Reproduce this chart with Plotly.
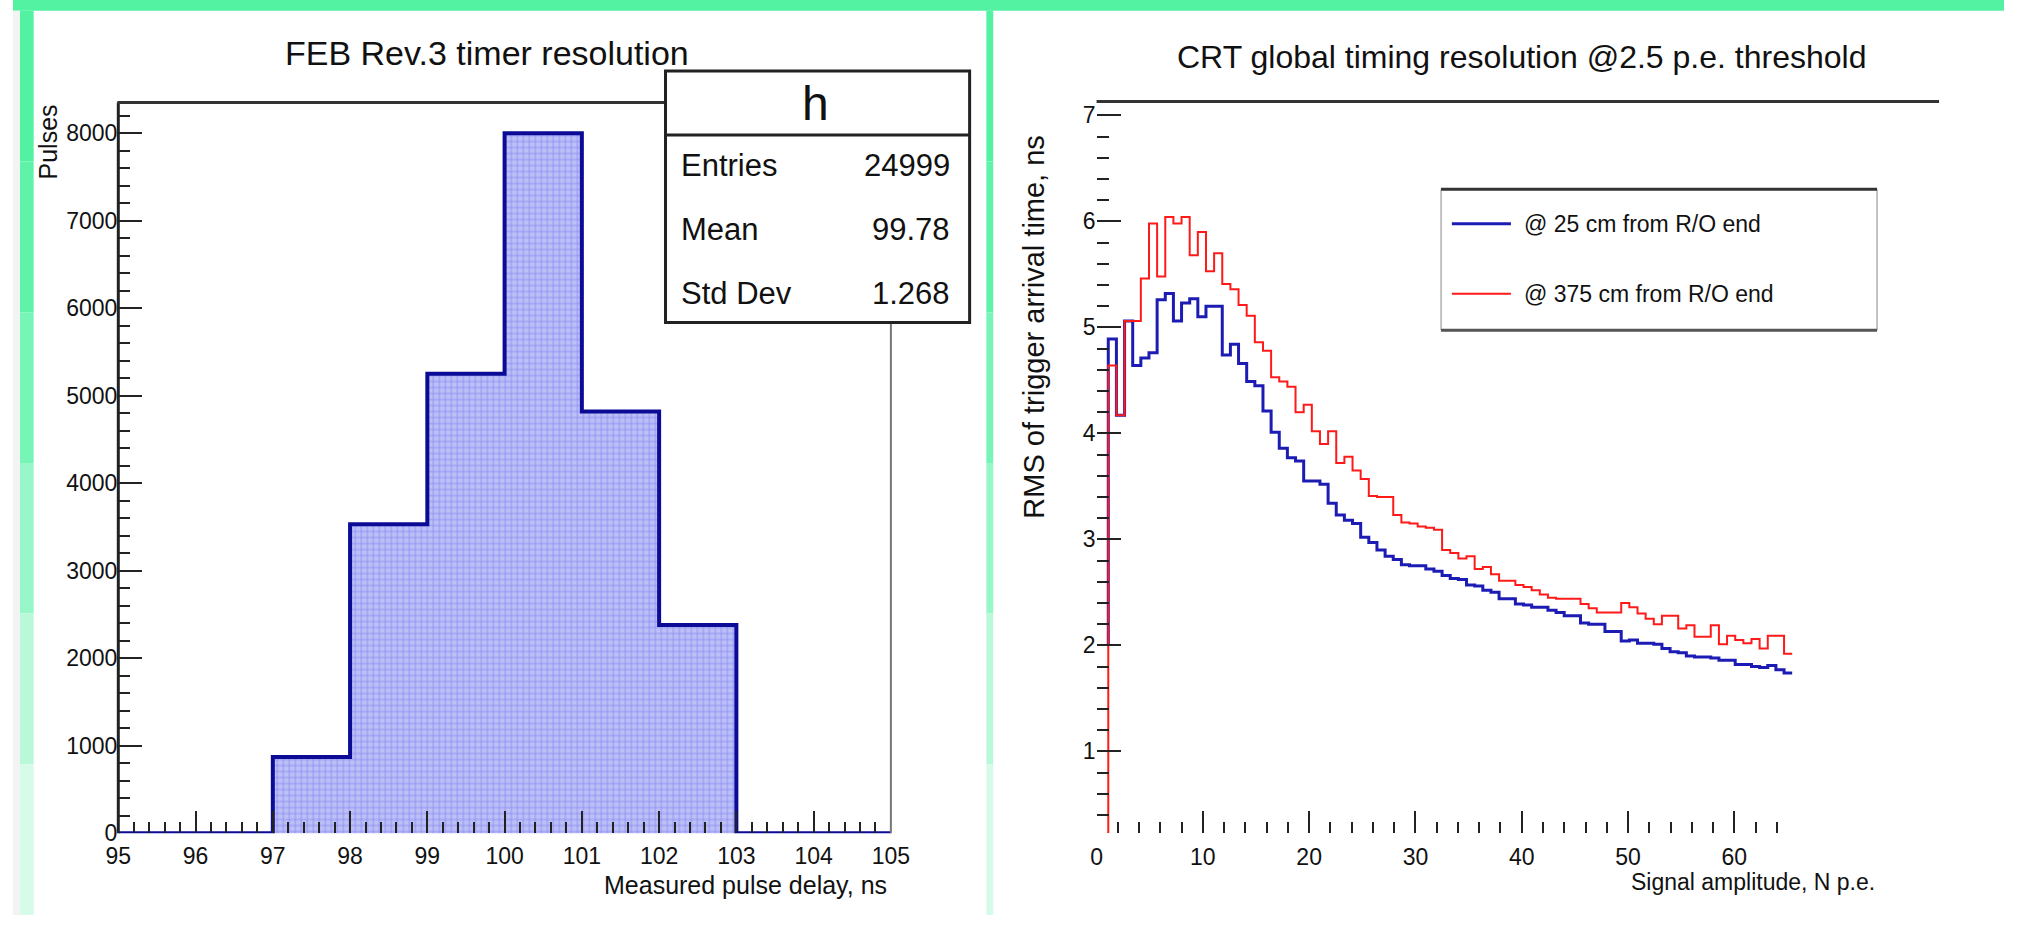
import plotly.graph_objects as go
import numpy as np

W, H = 2023, 928

# ---------------- data: left panel (FEB timer resolution) ----------------
feb_bin_start = 95.0
feb_bin_width = 1.0
feb_counts = [0, 0, 870, 3530, 5250, 8000, 4820, 2380, 0, 0]
feb_x_ticks = list(range(95, 106))
feb_y_ticks = list(range(0, 8001, 1000))
stat_names = ["Entries", "Mean", "Std Dev"]
stat_values = ["24999", "99.78", "1.268"]

# ---------------- data: right panel (CRT timing resolution) ----------------
amp_bin_start = 1.1
amp_bin_width = 0.766
rms_25cm = [4.89, 4.17, 5.06, 4.64, 4.71, 4.76, 5.26, 5.32, 5.06, 5.23,
            5.27, 5.10, 5.20, 5.20, 4.74, 4.84, 4.66, 4.49, 4.45, 4.21,
            4.01, 3.86, 3.77, 3.74, 3.55, 3.55, 3.52, 3.34, 3.23, 3.18,
            3.15, 3.02, 2.97, 2.90, 2.84, 2.81, 2.76, 2.75, 2.75, 2.72,
            2.70, 2.66, 2.63, 2.62, 2.57, 2.56, 2.52, 2.50, 2.44, 2.44,
            2.39, 2.38, 2.36, 2.36, 2.33, 2.31, 2.28, 2.28, 2.21, 2.20,
            2.20, 2.13, 2.13, 2.04, 2.05, 2.02, 2.02, 2.01, 1.97, 1.94,
            1.93, 1.90, 1.89, 1.89, 1.88, 1.86, 1.86, 1.82, 1.82, 1.80,
            1.79, 1.81, 1.77, 1.74]
rms_375cm = [4.64, 4.17, 5.06, 5.06, 5.46, 5.98, 5.48, 6.04, 5.98, 6.04,
             5.68, 5.90, 5.53, 5.70, 5.41, 5.36, 5.21, 5.11, 4.86, 4.78,
             4.53, 4.49, 4.44, 4.20, 4.27, 4.02, 3.90, 4.02, 3.72, 3.78,
             3.65, 3.57, 3.41, 3.40, 3.40, 3.23, 3.16, 3.15, 3.12, 3.11,
             3.09, 2.90, 2.87, 2.82, 2.84, 2.72, 2.74, 2.67, 2.61, 2.61,
             2.57, 2.55, 2.52, 2.48, 2.45, 2.44, 2.44, 2.44, 2.39, 2.35,
             2.31, 2.31, 2.31, 2.40, 2.36, 2.30, 2.25, 2.20, 2.28, 2.28,
             2.16, 2.19, 2.08, 2.08, 2.19, 2.01, 2.09, 2.05, 2.02, 2.06,
             1.97, 2.09, 2.09, 1.92]
rms_25cm_start_level = 2.0
legend_labels = ["@ 25 cm from R/O end", "@ 375 cm from R/O end"]
amp_major_ticks = list(range(0, 61, 10))
amp_minor_ticks = [v for v in range(2, 65, 2) if v % 10 != 0]
rms_major_ticks = list(range(1, 8))

# ---------------- styling ----------------
FONT = "Liberation Sans Narrow, Arial Narrow, Liberation Sans, Arial, sans-serif"
GREEN = "#52f2a2"
NAVY = "#0b0b96"
BLUE = "#1c1cb4"
RED = "#ff1a1a"

# plot-area frame positions (pixels)
L_X0, L_X1, L_Y0, L_Y1 = 107, 892, 104, 845
R_X0, R_X1, R_Y0, R_Y1 = 1101, 1957, 103, 845


def fx(px):
    return px / W


def fy(py):
    return 1 - py / H


fig = go.Figure()

# left histogram (fill + outline)
feb_edges = feb_bin_start + feb_bin_width * np.arange(len(feb_counts) + 1)
feb_centers = (feb_edges[:-1] + feb_edges[1:]) / 2
fig.add_trace(go.Bar(
    x=feb_centers, y=feb_counts, width=feb_bin_width,
    marker=dict(color="#bcc0f7", line=dict(width=0),
                pattern=dict(shape="+", fgcolor="#4646ea", size=6, solidity=0.22)),
    xaxis="x", yaxis="y", showlegend=False, hoverinfo="skip"))
fig.add_trace(go.Scatter(
    x=list(feb_edges), y=feb_counts + [feb_counts[-1]], mode="lines",
    line=dict(color=NAVY, width=4, shape="hv"),
    xaxis="x", yaxis="y", showlegend=False, name="h"))

# right step histograms
amp_edges = amp_bin_start + amp_bin_width * np.arange(len(rms_25cm) + 1)
y2_min, y2_max = 0.228, 7.13
fig.add_trace(go.Scatter(
    x=[amp_edges[0]] + list(amp_edges), y=[rms_25cm_start_level] + rms_25cm + [rms_25cm[-1]],
    mode="lines", line=dict(color=BLUE, width=3, shape="hv"),
    xaxis="x2", yaxis="y2", showlegend=False, name=legend_labels[0]))
fig.add_trace(go.Scatter(
    x=[amp_edges[0]] + list(amp_edges), y=[y2_min] + rms_375cm + [rms_375cm[-1]],
    mode="lines", line=dict(color=RED, width=2, shape="hv"),
    xaxis="x2", yaxis="y2", showlegend=False, name=legend_labels[1]))

tickfont_l = dict(family=FONT, size=23, color="#111")
tickfont_r = dict(family=FONT, size=23, color="#111")

fig.update_layout(
    width=W, height=H, margin=dict(l=0, r=0, t=0, b=0),
    paper_bgcolor="white", plot_bgcolor="rgba(0,0,0,0)",
    bargap=0, showlegend=False,
    xaxis=dict(domain=[fx(L_X0), fx(L_X1)], range=[95, 105], tickvals=feb_x_ticks,
               ticks="inside", ticklen=22, tickwidth=2, tickcolor="#222", ticklabelstandoff=7,
               minor=dict(dtick=0.2, tick0=95, ticks="inside", ticklen=11, tickwidth=2, tickcolor="#222"),
               showgrid=False, zeroline=False, showline=False, tickfont=tickfont_l, anchor="y"),
    yaxis=dict(domain=[fy(L_Y1), fy(L_Y0)], range=[0, 8350], tickvals=feb_y_ticks,
               ticks="inside", ticklen=24, tickwidth=2, tickcolor="#222",
               minor=dict(dtick=200, tick0=0, ticks="inside", ticklen=12, tickwidth=2, tickcolor="#222"),
               showgrid=False, zeroline=False, showline=False, tickfont=tickfont_l, anchor="x"),
    xaxis2=dict(domain=[fx(R_X0), fx(R_X1)], range=[0, 79.26], tickvals=amp_major_ticks,
                ticks="inside", ticklen=22, tickwidth=2, tickcolor="#222", ticklabelstandoff=8,
                minor=dict(tickvals=amp_minor_ticks, ticks="inside", ticklen=11, tickwidth=2, tickcolor="#222"),
                showgrid=False, zeroline=False, showline=False, tickfont=tickfont_r, anchor="y2"),
    yaxis2=dict(domain=[fy(R_Y1), fy(R_Y0)], range=[y2_min, y2_max], tickvals=rms_major_ticks,
                ticks="inside", ticklen=24, tickwidth=2, tickcolor="#222",
                minor=dict(dtick=0.2, tick0=0, ticks="inside", ticklen=12, tickwidth=2, tickcolor="#222"),
                showgrid=False, zeroline=False, showline=False, tickfont=tickfont_r, anchor="x2"),
)

shapes = []
# green border strips (fading toward the bottom)
fade = ["#52f2a2", "#5ef3a9", "#77f5b7", "#97f7c8", "#b9f9da", "#d6fbe9"]
shapes.append(dict(type="rect", xref="paper", yref="paper", x0=0, x1=1, y0=fy(11), y1=1,
                   fillcolor=GREEN, line=dict(width=0), layer="above"))
seg = (H - 11) / len(fade)
for i, c in enumerate(fade):
    ya, yb = 11 + i * seg, 11 + (i + 1) * seg
    shapes.append(dict(type="rect", xref="paper", yref="paper", x0=fx(7), x1=fx(21),
                       y0=fy(yb), y1=fy(ya), fillcolor=c, line=dict(width=0), layer="above"))
    shapes.append(dict(type="rect", xref="paper", yref="paper", x0=fx(989), x1=fx(996),
                       y0=fy(yb), y1=fy(ya), fillcolor=c, line=dict(width=0), layer="above"))
shapes.append(dict(type="rect", xref="paper", yref="paper", x0=0, x1=fx(7), y0=0, y1=fy(11),
                   fillcolor="#f1f4f2", line=dict(width=0), layer="above"))

# left frame
shapes.append(dict(type="line", xref="paper", yref="paper", x0=fx(L_X0), x1=fx(L_X0), y0=fy(L_Y1), y1=fy(L_Y0),
                   line=dict(color="#222", width=3), layer="above"))
shapes.append(dict(type="line", xref="paper", yref="paper", x0=fx(L_X0 - 1), x1=fx(L_X1), y0=fy(L_Y0), y1=fy(L_Y0),
                   line=dict(color="#333", width=3), layer="above"))
shapes.append(dict(type="line", xref="paper", yref="paper", x0=fx(L_X1), x1=fx(L_X1), y0=fy(L_Y1), y1=fy(L_Y0),
                   line=dict(color="#777", width=2), layer="above"))
# stats box
shapes.append(dict(type="rect", xref="paper", yref="paper", x0=fx(663), x1=fx(972), y0=fy(327), y1=fy(72),
                   fillcolor="white", line=dict(color="#222", width=3), layer="above"))
shapes.append(dict(type="line", xref="paper", yref="paper", x0=fx(663), x1=fx(972), y0=fy(137), y1=fy(137),
                   line=dict(color="#222", width=3), layer="above"))

# right frame top line
shapes.append(dict(type="line", xref="paper", yref="paper", x0=fx(R_X0), x1=fx(R_X1), y0=fy(R_Y0), y1=fy(R_Y0),
                   line=dict(color="#333", width=3), layer="above"))
# legend box
shapes.append(dict(type="rect", xref="paper", yref="paper", x0=fx(1451), x1=fx(1894), y0=fy(335), y1=fy(192),
                   fillcolor="white", line=dict(color="#888", width=1), layer="above"))
shapes.append(dict(type="line", xref="paper", yref="paper", x0=fx(1451), x1=fx(1894), y0=fy(192), y1=fy(192),
                   line=dict(color="#333", width=3), layer="above"))
shapes.append(dict(type="line", xref="paper", yref="paper", x0=fx(1451), x1=fx(1894), y0=fy(335), y1=fy(335),
                   line=dict(color="#555", width=3), layer="above"))
shapes.append(dict(type="line", xref="paper", yref="paper", x0=fx(1462), x1=fx(1522), y0=fy(227), y1=fy(227),
                   line=dict(color=BLUE, width=3), layer="above"))
shapes.append(dict(type="line", xref="paper", yref="paper", x0=fx(1462), x1=fx(1522), y0=fy(298), y1=fy(298),
                   line=dict(color=RED, width=2), layer="above"))
fig.update_layout(shapes=shapes)

ann = []


def text(x, y, s, size, xanchor="center", yanchor="middle", angle=0, color="#111"):
    ann.append(dict(x=fx(x), y=fy(y), xref="paper", yref="paper", text=s, showarrow=False,
                    xanchor=xanchor, yanchor=yanchor, textangle=angle,
                    font=dict(family=FONT, size=size, color=color)))


text(482, 54, "FEB Rev.3 timer resolution", 34)
text(1533, 58, "CRT global timing resolution @2.5 p.e. threshold", 32)
text(890, 898, "Measured pulse delay, ns", 25, xanchor="right")
text(36, 104, "Pulses", 25, yanchor="top", angle=-90)
text(1894, 895, "Signal amplitude, N p.e.", 23, xanchor="right")
text(1038, 135, "RMS of trigger arrival time, ns", 29, yanchor="top", angle=-90)
text(815, 105, "h", 48)
for i, (n, v) in enumerate(zip(stat_names, stat_values)):
    yy = 168 + 65 * i
    text(677, yy, n, 31, xanchor="left")
    text(954, yy, v, 31, xanchor="right")
text(1533, 227, legend_labels[0], 23, xanchor="left")
text(1533, 298, legend_labels[1], 23, xanchor="left")
fig.update_layout(annotations=ann)

fig.write_html(
    "out.html",
    config={"displayModeBar": False},
    post_script="document.body.style.margin='0px';document.body.style.overflow='hidden';",
)
